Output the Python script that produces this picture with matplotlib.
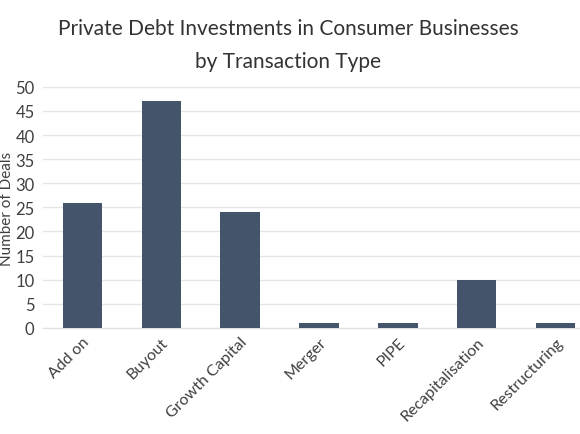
import matplotlib
matplotlib.use("Agg")
import matplotlib.pyplot as plt

categories = ["Add on", "Buyout", "Growth Capital", "Merger", "PIPE",
              "Recapitalisation", "Restructuring"]
deals = [26, 47, 24, 1, 1, 10, 1]
yticks = [0, 5, 10, 15, 20, 25, 30, 35, 40, 45, 50]

plt.rcParams['font.family'] = ['Lato', 'DejaVu Sans']
text_col = '#404040'

fig = plt.figure(figsize=(5.8, 4.35), dpi=100)
ax = fig.add_axes([0.074, 0.244, 0.952, 0.554])

x = range(len(categories))
ax.bar(x, deals, width=0.5, color='#44546A', zorder=3)

ax.set_xlim(-0.5, 6.5)
ax.set_ylim(0, 50)
ax.set_yticks(yticks)
ax.set_xticks(list(x))
ax.set_xticklabels(categories, rotation=45, ha='right', rotation_mode='anchor',
                   fontsize=11.5, color=text_col)
ax.tick_params(axis='y', labelsize=12, colors=text_col, length=0, pad=6)
ax.tick_params(axis='x', length=0, pad=5)

ax.grid(axis='y', color='#e5e5e5', linewidth=1, zorder=0)
for s in ['top', 'right', 'left']:
    ax.spines[s].set_visible(False)
ax.spines['bottom'].set_color('#e0e0e0')

# title as two lines, placed separately to get the spacing right
fig.text(0.497, 1 - 29 / 435, "Private Debt Investments in Consumer Businesses",
         ha='center', va='center', fontsize=15, color='#333333')
fig.text(0.497, 1 - 62 / 435, "by Transaction Type",
         ha='center', va='center', fontsize=15, color='#333333')
fig.text(0.012, 0.52, "Number of Deals", rotation=90, ha='center', va='center',
         fontsize=11, color=text_col)

fig.savefig("out.png", dpi=100)
